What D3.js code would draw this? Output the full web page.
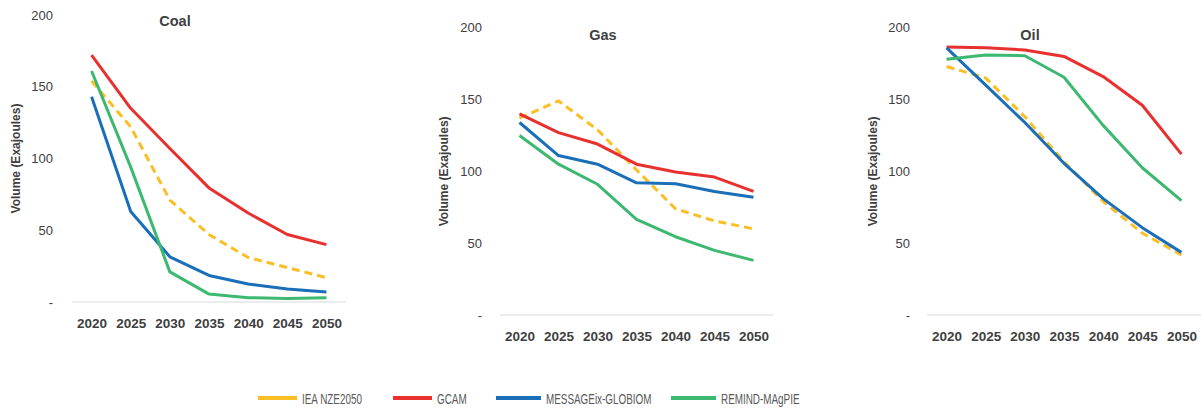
<!DOCTYPE html>
<html>
<head>
<meta charset="utf-8">
<script src="https://cdn.jsdelivr.net/npm/d3@7"></script>
<style>
  body { margin: 0; background: #fff; }
  svg { display: block; font-family: "Liberation Sans", Arial, sans-serif; }
  .ytick text { fill: #404040; font-size: 13px; }
  .xtick text { fill: #404040; font-size: 13.5px; font-weight: bold; }
</style>
</head>
<body>
<div id="chart"></div>
<script>
// years on the x axis
const years = [2020, 2025, 2030, 2035, 2040, 2045, 2050];
const yTicks = [0, 50, 100, 150, 200];

const seriesNames = ["IEA NZE2050", "GCAM", "MESSAGEix-GLOBIOM", "REMIND-MAgPIE"];

// Coal (EJ)
const coalIEA     = [154, 122, 71, 47, 31, 24, 17];
const coalGCAM    = [172, 135, 107, 79.5, 62, 47, 40];
const coalMESSAGE = [143, 63, 31.5, 18.5, 12.5, 9, 7];
const coalREMIND  = [161, 94, 21, 5.5, 3, 2.5, 3];

// Gas (EJ)
const gasIEA     = [137, 149, 129, 101, 74, 65.5, 60];
const gasGCAM    = [140, 127, 119, 105, 99.5, 96, 86];
const gasMESSAGE = [134, 111, 105, 92, 91.4, 86, 82];
const gasREMIND  = [125, 105, 91, 66.6, 54.5, 45, 38];

// Oil (EJ)
const oilIEA     = [173, 165, 138, 106.7, 79, 57, 41.8];
const oilGCAM    = [186.5, 186, 184.5, 180, 166, 146, 112];
const oilMESSAGE = [186, 160, 134, 105.6, 81, 60.8, 43.6];
const oilREMIND  = [178, 181, 180.5, 165.5, 132, 102.5, 79.6];

const colors = ["#FBBF26", "#E8302F", "#1A6FB8", "#3DB870"];

const svg = d3.select("#chart").append("svg")
  .attr("width", 1201)
  .attr("height", 409);

const panels = [
  { title: "Coal", data: [coalIEA, coalGCAM, coalMESSAGE, coalREMIND],
    x0: 72, x1: 346, yTop: 15, yBase: 302, labelX: 53, titleX: 175, titleY: 26, yTitleX: 20 },
  { title: "Gas", data: [gasIEA, gasGCAM, gasMESSAGE, gasREMIND],
    x0: 500, x1: 773, yTop: 27.7, yBase: 315, labelX: 482, titleX: 603, titleY: 40, yTitleX: 448 },
  { title: "Oil", data: [oilIEA, oilGCAM, oilMESSAGE, oilREMIND],
    x0: 927, x1: 1201, yTop: 27.7, yBase: 315, labelX: 910, titleX: 1030, titleY: 40, yTitleX: 877 }
];

panels.forEach(p => {
  const x = d3.scalePoint().domain(years).range([p.x0, p.x1]).padding(0.5);
  const y = d3.scaleLinear().domain([0, 200]).range([p.yBase, p.yTop]);

  // baseline
  svg.append("line")
    .attr("x1", p.x0).attr("x2", p.x1)
    .attr("y1", p.yBase).attr("y2", p.yBase)
    .attr("stroke", "#d9d9d9").attr("stroke-width", 1);

  const yAxis = svg.append("g")
    .attr("class", "ytick")
    .attr("transform", `translate(${p.labelX},0)`)
    .call(d3.axisLeft(y).tickValues(yTicks).tickSize(0).tickPadding(0)
      .tickFormat(d => d === 0 ? "-" : d));
  yAxis.select(".domain").remove();
  yAxis.selectAll("text").attr("font-family", null).attr("font-size", null);

  const xAxis = svg.append("g")
    .attr("class", "xtick")
    .attr("transform", `translate(0,${p.yBase})`)
    .call(d3.axisBottom(x).tickSize(0).tickPadding(16));
  xAxis.select(".domain").remove();
  xAxis.selectAll("text").attr("font-family", null).attr("font-size", null);

  svg.append("text")
    .attr("x", p.titleX).attr("y", p.titleY)
    .attr("text-anchor", "middle")
    .attr("fill", "#404040")
    .attr("font-size", 14.5)
    .attr("font-weight", "bold")
    .text(p.title);

  svg.append("text")
    .attr("transform", `translate(${p.yTitleX},${(p.yTop + p.yBase) / 2}) rotate(-90)`)
    .attr("text-anchor", "middle")
    .attr("fill", "#404040")
    .attr("font-size", 12)
    .attr("font-weight", "bold")
    .text("Volume (Exajoules)");

  const line = d3.line()
    .x((d, i) => x(years[i]))
    .y(d => y(d));

  p.data.forEach((vals, s) => {
    svg.append("path")
      .datum(vals)
      .attr("fill", "none")
      .attr("stroke", colors[s])
      .attr("stroke-width", 3)
      .attr("stroke-linejoin", "round")
      .attr("stroke-dasharray", s === 0 ? "8,5" : null)
      .attr("d", line);
  });
});

// legend - text is condensed in the original, squeeze it horizontally
const legendX = [258, 393, 496, 671];
const legend = svg.append("g");
seriesNames.forEach((name, i) => {
  const w = (i === 2 || i === 3) ? 45 : 39;
  legend.append("line")
    .attr("x1", legendX[i]).attr("x2", legendX[i] + w)
    .attr("y1", 398).attr("y2", 398)
    .attr("stroke", colors[i]).attr("stroke-width", 4);
  legend.append("text")
    .attr("transform", `translate(${legendX[i] + w + 5},403.5) scale(0.66,1)`)
    .attr("fill", "#595959")
    .attr("font-size", 15)
    .text(name);
});
</script>
</body>
</html>
